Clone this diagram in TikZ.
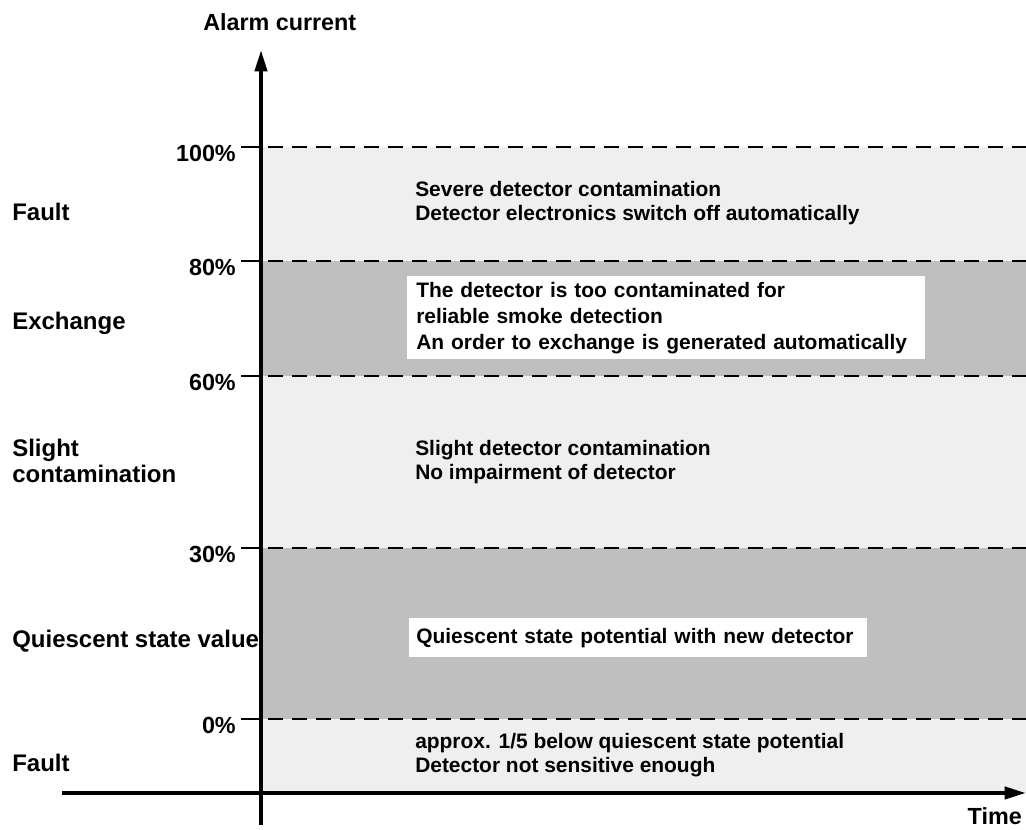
\documentclass[tikz,border=0pt]{standalone}
\usepackage{fontspec}
\setmainfont{Liberation Sans}
\usetikzlibrary{arrows.meta}
\definecolor{lightband}{HTML}{EFEFEF}
\definecolor{darkband}{HTML}{BFBFBF}
\begin{document}
\begin{tikzpicture}[x=0.75pt,y=-0.75pt,
  axislabel/.style={font=\bfseries\fontsize{17.5}{19.5}\selectfont, inner sep=0pt, align=left},
  sidelabel/.style={font=\bfseries\fontsize{18}{19.5}\selectfont, inner sep=0pt, align=left, anchor=west},
  bandtext/.style={font=\bfseries\fontsize{15.7}{18.5}\selectfont, align=left, inner sep=0pt, anchor=west},
  whitebox/.style={fill=white, align=left, anchor=north west, inner ysep=0pt,
    font=\bfseries\fontsize{15.7}{19.5}\selectfont},
  levelline/.style={line width=1.5pt, dash pattern=on 11.6pt off 6.4pt},
  tickline/.style={line width=1.5pt},
  axisline/.style={line width=3pt, -{Triangle[length=16pt,width=9pt]}},
]
\useasboundingbox (0,0) rectangle (1026,830);
% bands
\fill[lightband] (261,147) rectangle (1026,793);
\fill[darkband] (261,261) rectangle (1026,376);
\fill[darkband] (261,548) rectangle (1026,719);
% level lines and percent labels
\foreach \n/\y in {100/147,80/261,60/376,30/548,0/719} {
  \coordinate (t\n) at (241,\y);
  \coordinate (a\n) at (261,\y);
  \coordinate (d\n) at (268,\y);
  \coordinate (e\n) at (1026,\y);
  \draw[tickline] (t\n) -- (a\n);
  \draw[levelline] (d\n) -- (e\n);
  \node[axislabel, anchor=east] (p\n) at (236,\y+6) {\n\%};
}
% axes
\coordinate (ybot) at (261,825);
\coordinate (ytop) at (261,50);
\coordinate (xleft) at (62,793);
\coordinate (xright) at (1026,793);
\draw[axisline] (ybot) -- (ytop);
\draw[axisline] (xleft) -- (xright);
\node[axislabel, anchor=west] (ylab) at (203,22) {Alarm current};
\node[axislabel, anchor=east] (xlab) at (1022,816) {Time};
% left labels
\node[sidelabel] (fault1) at (12,212) {Fault};
\node[sidelabel] (exch) at (12,323) {Exchange};
\node[sidelabel] (slight) at (12,461) {Slight\\contamination};
\node[sidelabel] (quies) at (12,641) {Quiescent state value};
\node[sidelabel] (fault2) at (12,763) {Fault};
% band texts
\node[bandtext] (severe) at (415,203) {Severe detector contamination\\Detector electronics switch off automatically};
\node[whitebox, text width=375pt, inner xsep=6.75pt, minimum height=62.25pt] (exbox) at (407,276)
  {The detector is too contaminated for\\reliable smoke detection\\An order to exchange is generated automatically};
\node[bandtext] (slighttxt) at (415,462) {Slight detector contamination\\No impairment of detector};
\node[whitebox, text width=333pt, inner xsep=5.25pt, minimum height=29.25pt] (qbox) at (409,618)
  {Quiescent state potential with new detector};
\node[bandtext] (below) at (415,755) {approx. 1/5 below quiescent state potential\\Detector not sensitive enough};
\end{tikzpicture}
\end{document}
